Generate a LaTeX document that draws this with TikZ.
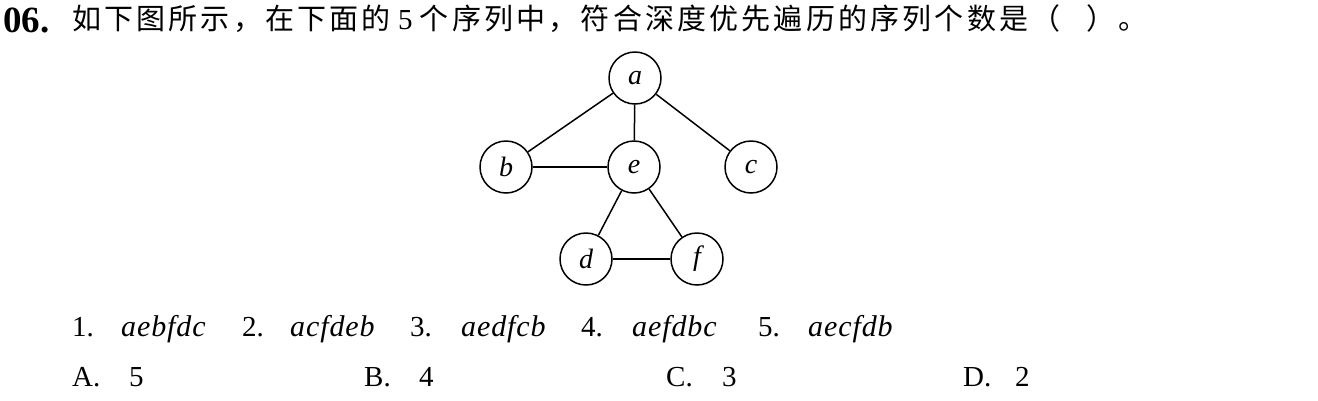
\documentclass[tikz,border=0pt]{standalone}
\usepackage{fontspec}
\setmainfont{Liberation Serif}
\newfontfamily\cjk{Noto Sans CJK SC}
\begin{document}
\begin{tikzpicture}[x=1pt,y=-1pt,
  vtx/.style={circle,draw,line width=1.5pt,minimum size=52pt,inner sep=0pt,font=\fontsize{28}{28}\selectfont\itshape},
  edge/.style={line width=1.5pt},
  txt/.style={anchor=base west,inner sep=0pt,font=\fontsize{29}{29}\selectfont},
  seq/.style={anchor=base west,inner sep=0pt,font=\fontsize{30}{30}\selectfont\itshape\addfontfeature{LetterSpace=3}}]
\useasboundingbox (0,0) rectangle (1318,400);
% title
\node[anchor=base west,inner sep=0pt,font=\fontsize{37}{37}\selectfont\bfseries] (num) at (3,32) {06.};
\node[anchor=base west,inner sep=0pt,font=\cjk\fontsize{29}{29}\selectfont\addfontfeature{LetterSpace=11}] (title) at (72,29)
  {如下图所示，在下面的{\rmfamily\ 5 }个序列中，符合深度优先遍历的序列个数是（\hspace{26pt}）。};
% graph
\node[vtx] (a) at (635,78) {a};
\node[vtx] (b) at (506,167) {b};
\node[vtx] (e) at (634,167) {e};
\node[vtx] (c) at (751,167) {c};
\node[vtx] (d) at (586,259) {d};
\node[vtx] (f) at (697,259) {f};
\draw[edge] (a) -- (b);
\draw[edge] (a) -- (e);
\draw[edge] (a) -- (c);
\draw[edge] (b) -- (e);
\draw[edge] (e) -- (d);
\draw[edge] (e) -- (f);
\draw[edge] (d) -- (f);
% sequences
\node[txt] (n1) at (72,336) {1.};
\node[seq] (s1) at (121,336) {aebfdc};
\node[txt] (n2) at (242,336) {2.};
\node[seq] (s2) at (290,336) {acfdeb};
\node[txt] (n3) at (410,336) {3.};
\node[seq] (s3) at (461,336) {aedfcb};
\node[txt] (n4) at (581,336) {4.};
\node[seq] (s4) at (632,336) {aefdbc};
\node[txt] (n5) at (758,336) {5.};
\node[seq] (s5) at (808,336) {aecfdb};
% options
\node[txt] (oa) at (72,386) {A.};
\node[txt] (va) at (129,386) {5};
\node[txt] (ob) at (364,386) {B.};
\node[txt] (vb) at (419,386) {4};
\node[txt] (oc) at (666,386) {C.};
\node[txt] (vc) at (722,386) {3};
\node[txt] (od) at (963,386) {D.};
\node[txt] (vd) at (1015,386) {2};
\end{tikzpicture}
\end{document}
